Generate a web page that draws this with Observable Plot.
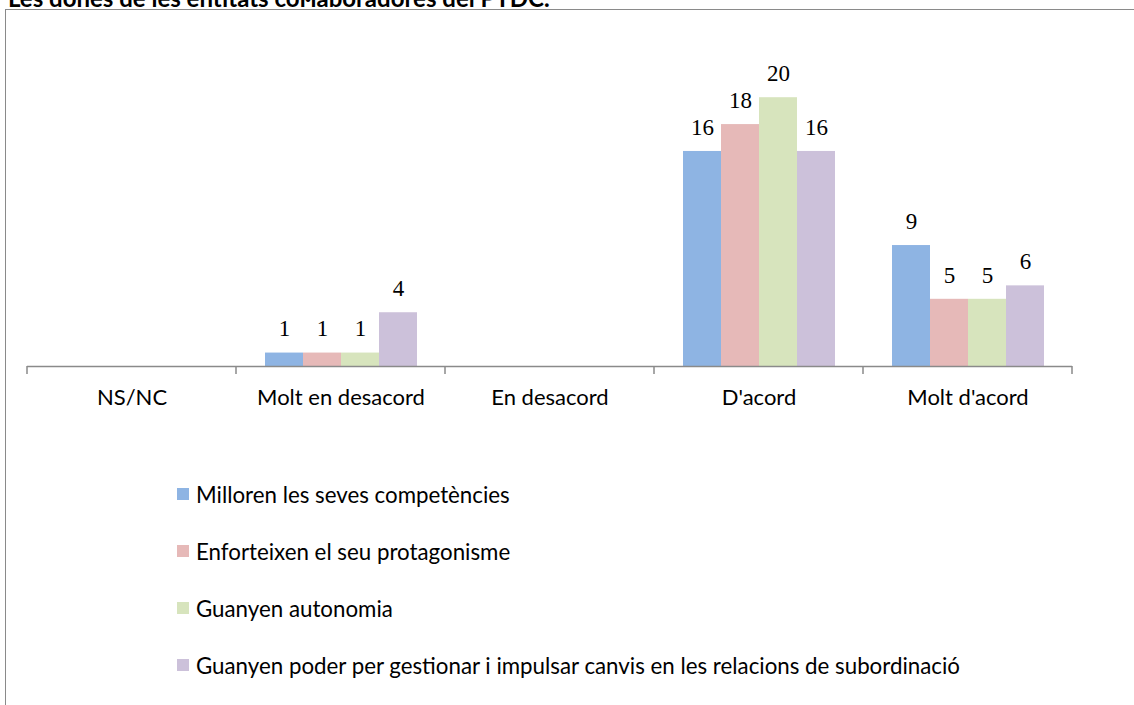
<!DOCTYPE html>
<html>
<head>
<meta charset="utf-8">
<script src="https://cdn.jsdelivr.net/npm/d3@7"></script>
<script src="https://cdn.jsdelivr.net/npm/@observablehq/plot@0.6"></script>
<style>
  html, body { margin: 0; padding: 0; background: #fff; width: 1134px; height: 705px; overflow: hidden; }
  #title { position: absolute; left: 8px; top: -17px; font-family: Lato, "Liberation Sans", sans-serif; font-weight: bold; font-size: 24px; color: #000; white-space: nowrap; }
  #frame { position: absolute; left: 5px; top: 9px; width: 1200px; height: 800px; border: 1.5px solid #8a8a8a; box-sizing: border-box; }
  #chart { position: absolute; left: 0; top: 0; }
  #legend { position: absolute; left: 177px; top: 482px; font-family: Lato, "Liberation Sans", sans-serif; font-size: 22.3px; color: #000; }
  .row { display: flex; align-items: center; height: 24px; margin-bottom: 33px; white-space: nowrap; }
  .sw { width: 12px; height: 12px; margin-right: 7px; flex: none; }
</style>
</head>
<body>
<div id="title">Les dones de les entitats col·laboradores del PTDC.</div>
<div id="frame"></div>
<div id="chart"></div>
<div id="legend"></div>
<script>
const categories = ["NS/NC", "Molt en desacord", "En desacord", "D'acord", "Molt d'acord"];
const series = [
  "Milloren les seves competències",
  "Enforteixen el seu protagonisme",
  "Guanyen autonomia",
  "Guanyen poder per gestionar i impulsar canvis en les relacions de subordinació"
];
const colors = ["#8EB4E3", "#E6B9B8", "#D7E4BD", "#CCC1DA"];
const milloren     = [0, 1, 0, 16, 9];
const enforteixen  = [0, 1, 0, 18, 5];
const autonomia    = [0, 1, 0, 20, 5];
const poder        = [0, 4, 0, 16, 6];

const seriesValues = [milloren, enforteixen, autonomia, poder];
const data = [];
series.forEach((s, i) => categories.forEach((c, j) => data.push({category: c, series: s, value: seriesValues[i][j]})));

const plot = Plot.plot({
  width: 1134,
  height: 430,
  marginLeft: 25,
  marginRight: 61,
  marginTop: 30,
  marginBottom: 64,
  style: { background: "transparent" },
  fx: { domain: categories, padding: 0, label: null },
  x: { domain: series, paddingInner: 0, paddingOuter: 0.72, axis: null },
  y: { domain: [0, 25], axis: null },
  color: { domain: series, range: colors },
  marks: [
    Plot.barY(data, { fx: "category", x: "series", y: "value", fill: "series" }),
    Plot.ruleY([0], { stroke: "#8a8a8a", strokeWidth: 1.5 }),
    Plot.text(data.filter(d => d.value > 0), {
      fx: "category", x: "series", y: "value", text: d => String(d.value),
      dy: -24, lineAnchor: "middle", fontSize: 23, fontFamily: "Liberation Serif, DejaVu Serif, serif", fill: "#000"
    }),
    Plot.axisFx({ anchor: "bottom", tickSize: 0, tickPadding: 23, fontSize: 22, fontFamily: "Lato, Liberation Sans, sans-serif", label: null, fill: "#000" })
  ]
});
document.getElementById("chart").appendChild(plot);

// category boundary ticks from the fx scale
const fx = plot.scale("fx");
const y0 = plot.scale("y").apply(0);
const bounds = categories.map(c => fx.apply(c));
bounds.push(fx.apply(categories[categories.length - 1]) + fx.bandwidth);
d3.select(plot).append("g")
  .selectAll("line").data(bounds).join("line")
  .attr("x1", d => d).attr("x2", d => d)
  .attr("y1", y0).attr("y2", y0 + 8)
  .attr("stroke", "#8a8a8a").attr("stroke-width", 1.5);

const legend = d3.select("#legend");
series.forEach((s, i) => {
  const row = legend.append("div").attr("class", "row");
  row.append("div").attr("class", "sw").style("background", colors[i]);
  row.append("span").text(s);
});
</script>
</body>
</html>
